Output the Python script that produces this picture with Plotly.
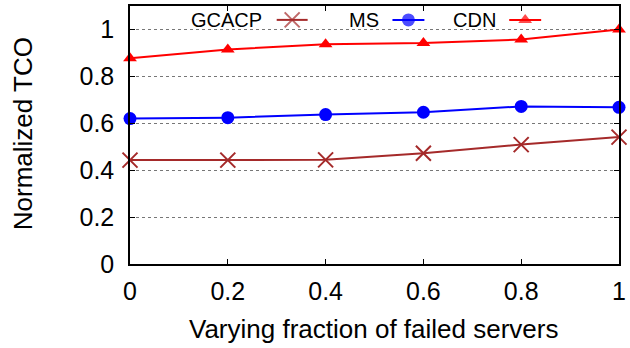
import plotly.graph_objects as go

# Fraction of failed servers and normalized TCO per scheme
fractions = [0, 0.2, 0.4, 0.6, 0.8, 1.0]
gcacp = [0.443, 0.443, 0.444, 0.472, 0.509, 0.541]
ms = [0.620, 0.624, 0.637, 0.647, 0.672, 0.668]
cdn = [0.877, 0.915, 0.937, 0.942, 0.957, 1.000]

series_names = ["GCACP", "MS", "CDN"]
series_values = [gcacp, ms, cdn]
colors = ["#A52A2A", "#0000FF", "#FF0000"]
symbols = ["x-thin", "circle", "triangle-up"]
sizes = [15, 13, 12]

FONT = "Liberation Sans, Arial, sans-serif"

# page geometry (px) of the plotting area
W, H = 630, 348
L, R, T, B = 130, 10, 4, 84
PW, PH = W - L - R, H - T - B


def px_x(p):
    return (p - L) / PW


def px_y(p):
    return (H - B - p) / PH


fig = go.Figure()

for name, vals, col, sym, sz in zip(series_names, series_values, colors, symbols, sizes):
    fig.add_trace(go.Scatter(
        x=fractions, y=vals, name=name, mode="lines+markers",
        line=dict(color=col, width=2),
        marker=dict(symbol=sym, size=sz, color=col,
                    line=dict(color=col, width=2 if sym == "x-thin" else 0)),
        cliponaxis=False, showlegend=False,
    ))

# custom key: label text to the left of the line sample
key_text_right = [263, 381, 498]
key_line = [(277, 308), (393, 425), (510, 542)]
key_y = 18

for name, col, sym, sz, tx, (a, b) in zip(series_names, colors, symbols, sizes,
                                          key_text_right, key_line):
    fig.add_annotation(x=px_x(tx), y=px_y(key_y), xref="paper", yref="paper",
                       text=name, showarrow=False, xanchor="right", yanchor="middle",
                       borderpad=0,
                       font=dict(family=FONT, size=20, color="black"))
    fig.add_trace(go.Scatter(
        x=[px_x(a), px_x((a + b) / 2), px_x(b)], y=[px_y(key_y)] * 3,
        xaxis="x2", yaxis="y2", mode="lines+markers",
        line=dict(color=col, width=2),
        marker=dict(symbol=sym, size=[0, sz, 0], color=col,
                    line=dict(color=col, width=2 if sym == "x-thin" else 0)),
        cliponaxis=False, showlegend=False, hoverinfo="skip",
    ))

# white key box hides the grid line behind it
fig.add_shape(type="rect", xref="paper", yref="paper",
              x0=px_x(188), x1=px_x(547), y0=px_y(31), y1=px_y(6),
              fillcolor="white", line=dict(width=0), layer="below")

# axis titles
fig.add_annotation(x=px_x(374), y=px_y(330), xref="paper", yref="paper",
                   text="Varying fraction of failed servers", showarrow=False,
                   xanchor="center", yanchor="middle",
                   font=dict(family=FONT, size=26, color="black"))
fig.add_annotation(x=px_x(23), y=px_y(133), xref="paper", yref="paper",
                   text="Normalized TCO", showarrow=False, textangle=-90,
                   xanchor="center", yanchor="middle",
                   font=dict(family=FONT, size=26, color="black"))

axis_common = dict(
    showline=True, linecolor="black", linewidth=1.5, mirror="ticks",
    ticks="inside", ticklen=5, tickcolor="black", tickwidth=1,
    tickfont=dict(family=FONT, size=25, color="black"),
    zeroline=False,
)

fig.update_layout(
    width=W, height=H,
    margin=dict(l=L, r=R, t=T, b=B),
    paper_bgcolor="white", plot_bgcolor="white",
    xaxis=dict(range=[0, 1], dtick=0.2, tick0=0, showgrid=False,
               ticklabelstandoff=4, **axis_common),
    yaxis=dict(range=[0, 1.1], dtick=0.2, tick0=0, showgrid=True,
               gridcolor="#777777", griddash="dot", gridwidth=1,
               ticklabelstandoff=9, **axis_common),
    xaxis2=dict(range=[0, 1], overlaying="x", visible=False, fixedrange=True),
    yaxis2=dict(range=[0, 1], overlaying="y", visible=False, fixedrange=True),
    showlegend=False,
)

fig.write_html("out.html")
